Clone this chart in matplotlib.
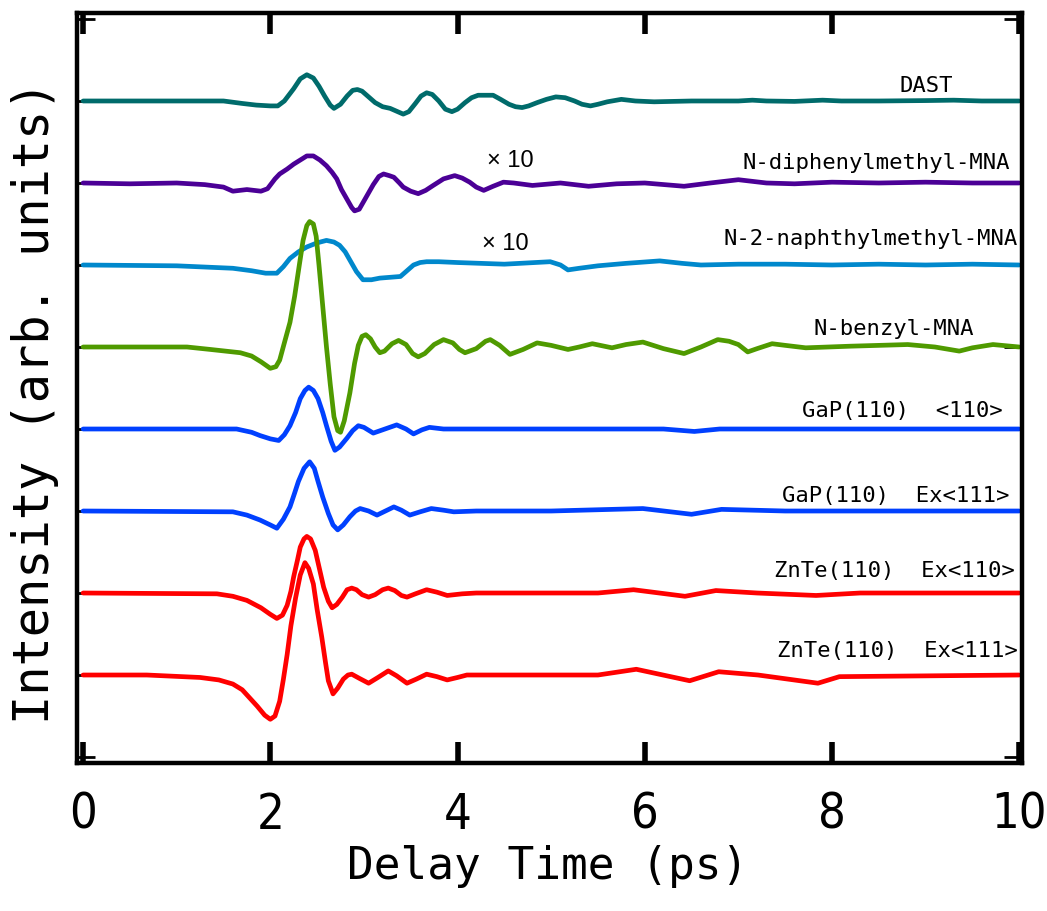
import matplotlib
matplotlib.use("Agg")
import matplotlib.pyplot as plt
import numpy as np

# waveforms (time in ps, amplitude in offset units)
dast_t = [0, 1.0, 1.5, 1.7, 1.85, 2.0, 2.08, 2.15, 2.25, 2.32, 2.39, 2.46, 2.52, 2.58, 2.64, 2.68,
          2.75, 2.82, 2.88, 2.93, 2.98, 3.05, 3.12, 3.2, 3.28, 3.36, 3.42, 3.48, 3.55, 3.61, 3.67,
          3.73, 3.8, 3.87, 3.94, 4.0, 4.08, 4.15, 4.22, 4.3, 4.38, 4.46, 4.55, 4.62, 4.69, 4.76,
          4.85, 4.95, 5.05, 5.15, 5.25, 5.33, 5.42, 5.5, 5.6, 5.75, 5.9, 6.1, 6.5, 7.0, 7.15, 7.3,
          7.6, 7.9, 8.1, 8.5, 9.0, 9.3, 9.6, 10]
dast_v = [0, 0, 0, -0.03, -0.05, -0.06, -0.06, 0.0, 0.15, 0.27, 0.32, 0.28, 0.18, 0.06, -0.05, -0.09,
          -0.04, 0.06, 0.13, 0.14, 0.12, 0.05, -0.02, -0.07, -0.09, -0.13, -0.16, -0.13, -0.03, 0.06,
          0.10, 0.08, 0.0, -0.1, -0.13, -0.1, -0.02, 0.04, 0.07, 0.07, 0.07, 0.02, -0.04, -0.07, -0.08,
          -0.06, -0.02, 0.02, 0.05, 0.04, 0.0, -0.04, -0.06, -0.04, -0.01, 0.02, 0.0, -0.01, 0.0, 0.0,
          0.01, 0.0, -0.005, 0.01, 0.0, 0.0, 0.005, 0.01, 0.0, 0]

diph_t = [0, 0.5, 1.0, 1.3, 1.5, 1.6, 1.75, 1.9, 1.97, 2.05, 2.1, 2.18, 2.25, 2.32, 2.39, 2.46, 2.53,
          2.6, 2.66, 2.71, 2.76, 2.82, 2.87, 2.9, 2.95, 3.03, 3.1, 3.16, 3.21, 3.27, 3.32, 3.38, 3.42,
          3.5, 3.58, 3.66, 3.74, 3.85, 3.97, 4.05, 4.13, 4.2, 4.28, 4.38, 4.49, 4.6, 4.8, 5.1, 5.4,
          5.7, 6.0, 6.42, 6.7, 7.0, 7.3, 7.6, 8.0, 8.5, 9.0, 9.5, 10]
diph_v = [0, -0.01, 0.0, -0.02, -0.05, -0.1, -0.08, -0.1, -0.07, 0.05, 0.11, 0.17, 0.23, 0.28, 0.33,
          0.33, 0.28, 0.21, 0.13, 0.05, -0.08, -0.2, -0.3, -0.34, -0.32, -0.16, -0.02, 0.08, 0.11,
          0.09, 0.07, 0.0, -0.05, -0.1, -0.13, -0.09, -0.03, 0.05, 0.09, 0.06, 0.01, -0.05, -0.09,
          -0.04, 0.01, 0.0, -0.03, 0.0, -0.04, -0.01, 0.0, -0.04, 0.0, 0.04, 0.0, -0.01, 0.01, 0.0,
          0.01, 0.0, 0]

naph_t = [0, 1.0, 1.6, 1.8, 1.95, 2.07, 2.14, 2.21, 2.3, 2.39, 2.5, 2.6, 2.68, 2.74, 2.8, 2.85, 2.92,
          2.99, 3.08, 3.17, 3.28, 3.39, 3.46, 3.53, 3.6, 3.67, 3.8, 4.0, 4.5, 4.99, 5.1, 5.18, 5.3,
          5.5, 5.8, 6.16, 6.4, 6.6, 7.0, 7.5, 8.0, 8.5, 9.0, 9.5, 10]
naph_v = [0, -0.01, -0.04, -0.07, -0.1, -0.1, -0.02, 0.08, 0.16, 0.22, 0.27, 0.3, 0.28, 0.24, 0.16,
          0.06, -0.08, -0.18, -0.18, -0.16, -0.15, -0.14, -0.07, 0.0, 0.03, 0.04, 0.04, 0.03, 0.01,
          0.04, 0.0, -0.06, -0.04, -0.01, 0.02, 0.05, 0.02, 0.0, 0.01, 0.01, 0.0, 0.01, 0.0, 0.01, 0]

benz_t = [0, 1.11, 1.36, 1.68, 1.8, 1.9, 2.0, 2.06, 2.1, 2.15, 2.21, 2.26, 2.31, 2.35, 2.39, 2.42,
          2.46, 2.49, 2.52, 2.56, 2.6, 2.64, 2.68, 2.72, 2.75, 2.79, 2.85, 2.9, 2.94, 2.98, 3.02,
          3.07, 3.12, 3.17, 3.22, 3.3, 3.37, 3.45, 3.52, 3.58, 3.65, 3.75, 3.85, 3.95, 4.02, 4.08,
          4.2, 4.3, 4.35, 4.45, 4.56, 4.7, 4.85, 5.0, 5.18, 5.3, 5.44, 5.65, 5.8, 5.98, 6.2, 6.42,
          6.6, 6.78, 6.9, 7.0, 7.1, 7.2, 7.36, 7.5, 7.72, 8.2, 8.81, 9.1, 9.36, 9.5, 9.72, 10]
benz_v = [0, 0, -0.03, -0.07, -0.11, -0.18, -0.26, -0.24, -0.16, 0.05, 0.3, 0.62, 1.0, 1.3, 1.48,
          1.53, 1.5, 1.35, 1.0, 0.5, 0.0, -0.45, -0.85, -1.02, -1.04, -0.9, -0.56, -0.2, 0.02, 0.13,
          0.15, 0.1, 0.0, -0.07, -0.05, 0.04, 0.08, 0.03, -0.08, -0.12, -0.08, 0.03, 0.09, 0.05,
          -0.03, -0.07, -0.02, 0.07, 0.09, 0.02, -0.09, -0.03, 0.05, 0.02, -0.03, 0.0, 0.04, -0.01,
          0.03, 0.06, -0.02, -0.08, 0.0, 0.09, 0.07, 0.03, -0.06, -0.02, 0.04, 0.02, -0.01, 0.01,
          0.03, 0.0, -0.05, -0.01, 0.03, 0]

gap110_t = [0, 1.64, 1.8, 1.89, 2.0, 2.09, 2.15, 2.21, 2.27, 2.32, 2.37, 2.41, 2.46, 2.51, 2.56, 2.6,
            2.65, 2.69, 2.74, 2.82, 2.88, 2.94, 3.0, 3.1, 3.2, 3.35, 3.45, 3.53, 3.62, 3.7, 3.85, 4.5,
            5.0, 6.2, 6.53, 6.8, 8.0, 10]
gap110_v = [0, 0, -0.04, -0.08, -0.12, -0.14, -0.07, 0.04, 0.2, 0.37, 0.47, 0.51, 0.47, 0.37, 0.2,
            0.04, -0.15, -0.26, -0.22, -0.11, -0.02, 0.04, 0.02, -0.05, -0.01, 0.05, 0.0, -0.06, -0.01,
            0.02, 0.0, 0.0, 0.0, 0.0, -0.03, 0.0, 0.0, 0]

gap111_t = [0, 1.6, 1.75, 1.89, 2.0, 2.07, 2.14, 2.21, 2.26, 2.3, 2.36, 2.42, 2.47, 2.51, 2.56, 2.62,
            2.67, 2.72, 2.78, 2.85, 2.91, 2.96, 3.05, 3.14, 3.23, 3.32, 3.4, 3.49, 3.6, 3.72, 3.85,
            3.96, 4.2, 5.0, 5.98, 6.5, 6.82, 7.5, 10]
gap111_v = [0, -0.01, -0.05, -0.11, -0.17, -0.21, -0.1, 0.05, 0.22, 0.36, 0.52, 0.6, 0.52, 0.36, 0.17,
            -0.03, -0.17, -0.23, -0.17, -0.07, 0.0, 0.03, 0.0, -0.05, 0.0, 0.05, 0.01, -0.05, -0.01,
            0.03, 0.01, -0.01, 0.0, 0.0, 0.03, -0.04, 0.02, 0.0, 0]

znte110_t = [0, 1.43, 1.6, 1.75, 1.9, 2.0, 2.07, 2.13, 2.18, 2.22, 2.25, 2.29, 2.32, 2.36, 2.39, 2.43,
             2.48, 2.52, 2.57, 2.62, 2.66, 2.71, 2.77, 2.82, 2.87, 2.92, 2.98, 3.05, 3.12, 3.2, 3.26,
             3.33, 3.4, 3.46, 3.55, 3.67, 3.78, 3.89, 4.05, 4.2, 5.5, 5.88, 6.43, 6.76, 7.2, 7.83,
             8.3, 10]
znte110_v = [0, -0.01, -0.04, -0.09, -0.18, -0.26, -0.31, -0.27, -0.15, 0.02, 0.2, 0.4, 0.56, 0.66,
             0.69, 0.66, 0.52, 0.32, 0.07, -0.1, -0.18, -0.14, -0.05, 0.04, 0.06, 0.04, -0.02, -0.05,
             -0.02, 0.04, 0.06, 0.03, -0.03, -0.05, -0.01, 0.04, 0.01, -0.03, -0.01, 0.0, 0.0, 0.04,
             -0.04, 0.03, 0.0, -0.03, 0.0, 0]

znte111_t = [0, 0.68, 1.25, 1.45, 1.6, 1.7, 1.78, 1.86, 1.94, 2.0, 2.05, 2.1, 2.14, 2.18, 2.22, 2.27,
             2.32, 2.37, 2.41, 2.46, 2.5, 2.55, 2.59, 2.62, 2.67, 2.72, 2.78, 2.83, 2.87, 2.95, 3.05,
             3.15, 3.26, 3.35, 3.46, 3.56, 3.67, 3.78, 3.89, 4.0, 4.1, 5.5, 5.91, 6.48, 6.79, 7.21,
             7.85, 8.08, 10]
znte111_v = [0, 0, -0.03, -0.06, -0.11, -0.18, -0.28, -0.38, -0.49, -0.54, -0.5, -0.32, -0.05, 0.25,
             0.6, 0.94, 1.22, 1.37, 1.3, 1.11, 0.8, 0.46, 0.15, -0.07, -0.23, -0.16, -0.05, 0.0, 0.01,
             -0.04, -0.1, -0.03, 0.05, -0.01, -0.1, -0.05, 0.01, -0.02, -0.06, -0.03, 0.0, 0.0, 0.07,
             -0.07, 0.04, 0.0, -0.1, -0.02, 0]

names = ["DAST", "N-diphenylmethyl-MNA", "N-2-naphthylmethyl-MNA", "N-benzyl-MNA",
         "GaP(110)  <110>", "GaP(110)  Ex<111>", "ZnTe(110)  Ex<110>", "ZnTe(110)  Ex<111>"]
times = [dast_t, diph_t, naph_t, benz_t, gap110_t, gap111_t, znte110_t, znte111_t]
values = [dast_v, diph_v, naph_v, benz_v, gap110_v, gap111_v, znte110_v, znte111_v]
offsets = [7, 6, 5, 4, 3, 2, 1, 0]
colors = ["#006b6b", "#4b0096", "#0088cc", "#4f9a00", "#0040ff", "#0040ff", "#ff0000", "#ff0000"]
label_x = [9.29, 9.90, 9.98, 9.52, 9.82, 9.90, 9.95, 9.98]
label_dy = [0.11, 0.17, 0.24, 0.15, 0.15, 0.11, 0.20, 0.22]

fig = plt.figure(figsize=(10.47, 9.11), dpi=100)
ax = fig.add_axes([77 / 1047, 1 - 763 / 911, (1022 - 77) / 1047, (763 - 13) / 911])

for t, v, off, c in zip(times, values, offsets, colors):
    ax.plot(t, np.array(v) + off, color=c, lw=3.4, solid_joinstyle="round",
            solid_capstyle="round")

for name, off, lx, dy in zip(names, offsets, label_x, label_dy):
    ax.text(lx, off + dy, name, ha="right", va="baseline", fontsize=16,
            family=["DejaVu Sans Mono"])

# x10 scale marks
ax.text(4.32, 6 + 0.2, "\u00d7 10", ha="left", va="baseline", fontsize=17,
        family=["Liberation Sans", "DejaVu Sans"])
ax.text(4.26, 5 + 0.18, "\u00d7 10", ha="left", va="baseline", fontsize=17,
        family=["Liberation Sans", "DejaVu Sans"])

ax.set_xlim(-0.065, 10.03)
ax.set_ylim(-1.073, 8.073)
ax.set_xticks([0, 2, 4, 6, 8, 10])
ax.set_yticks(range(-1, 9))
ax.set_yticklabels([])
ax.tick_params(axis="x", direction="in", length=15, width=4, top=True, pad=20,
               labelsize=35)
ax.tick_params(axis="y", direction="in", length=13, width=2, right=True)
for lab in ax.get_xticklabels():
    lab.set_family(["DejaVu Sans"])
    lab.set_stretch("condensed")
for s in ax.spines.values():
    s.set_linewidth(3.2)

fig.text(548 / 1047, 1 - 866 / 911, "Delay Time (ps)", ha="center", va="center",
         fontsize=32, family=["DejaVu Sans Mono"])
fig.text(35 / 1047, 1 - 402 / 911, "Intensity (arb. units)", ha="center", va="center",
         rotation=90, fontsize=35, family=["DejaVu Sans Mono"])

fig.savefig("out.png", dpi=100)
